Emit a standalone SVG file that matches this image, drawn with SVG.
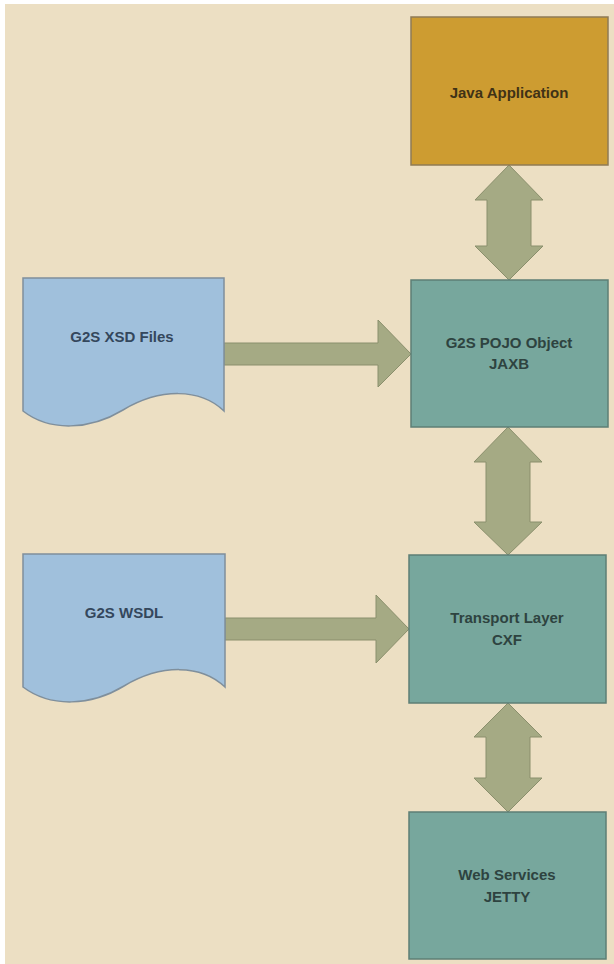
<svg xmlns="http://www.w3.org/2000/svg" width="614" height="964" viewBox="0 0 614 964">
<style>
.bg{fill:#ecdfc3}
.java{fill:#cd9c31;stroke:#8e7b55;stroke-width:1.5}
.teal{fill:#77a79d;stroke:#5d7f76;stroke-width:1.5}
.doc{fill:#a0c0dc;stroke:#7f8f9c;stroke-width:1.5}
.arr{fill:#a5aa84;stroke:#8a8f6c;stroke-width:1}
text{font-family:"Liberation Sans",Arial,sans-serif;font-size:15px;font-weight:bold;text-anchor:middle;dominant-baseline:central}
.t1{fill:#3f3216}
.t2{fill:#2e4340}
.t3{fill:#34475c}
</style>
<rect x="0" y="0" width="614" height="964" fill="#ffffff"/>
<rect class="bg" x="5" y="4" width="609" height="960"/>
<g id="connectors">
<polygon class="arr" points="509,165 543,200 531,200 531,246 543,246 509,280 475,246 487,246 487,200 475,200"/>
<polygon class="arr" points="508,427 542,462 530,462 530,522 542,522 508,555 474,522 486,522 486,462 474,462"/>
<polygon class="arr" points="508,703 542,737 530,737 530,778 542,778 508,812 474,778 486,778 486,737 474,737"/>
<polygon class="arr" points="224,343 378,343 378,320 411,354 378,387 378,365 224,365"/>
<polygon class="arr" points="225,618 376,618 376,595 409,629 376,663 376,640 225,640"/>
</g>
<g id="java">
<rect class="java" x="411" y="17" width="197" height="148"/>
<text class="t1" x="509" y="92">Java Application</text>
</g>
<g id="pojo">
<rect class="teal" x="411" y="280" width="197" height="147"/>
<text class="t2" x="509" y="342">G2S POJO Object</text>
<text class="t2" x="509" y="363">JAXB</text>
</g>
<g id="transport">
<rect class="teal" x="409" y="555" width="197" height="148"/>
<text class="t2" x="507" y="617">Transport Layer</text>
<text class="t2" x="507" y="639">CXF</text>
</g>
<g id="web">
<rect class="teal" x="409" y="812" width="197" height="147"/>
<text class="t2" x="507" y="874">Web Services</text>
<text class="t2" x="507" y="896">JETTY</text>
</g>
<g id="xsd">
<path class="doc" d="M23,278 H224 V411 C200,388 160,388 123,410 C90,430 50,432 23,411 Z"/>
<text class="t3" x="122" y="336">G2S XSD Files</text>
</g>
<g id="wsdl">
<path class="doc" d="M23,554 H225 V687 C201,664 161,664 124,686 C91,706 51,708 23,687 Z"/>
<text class="t3" x="124" y="612">G2S WSDL</text>
</g>
</svg>
